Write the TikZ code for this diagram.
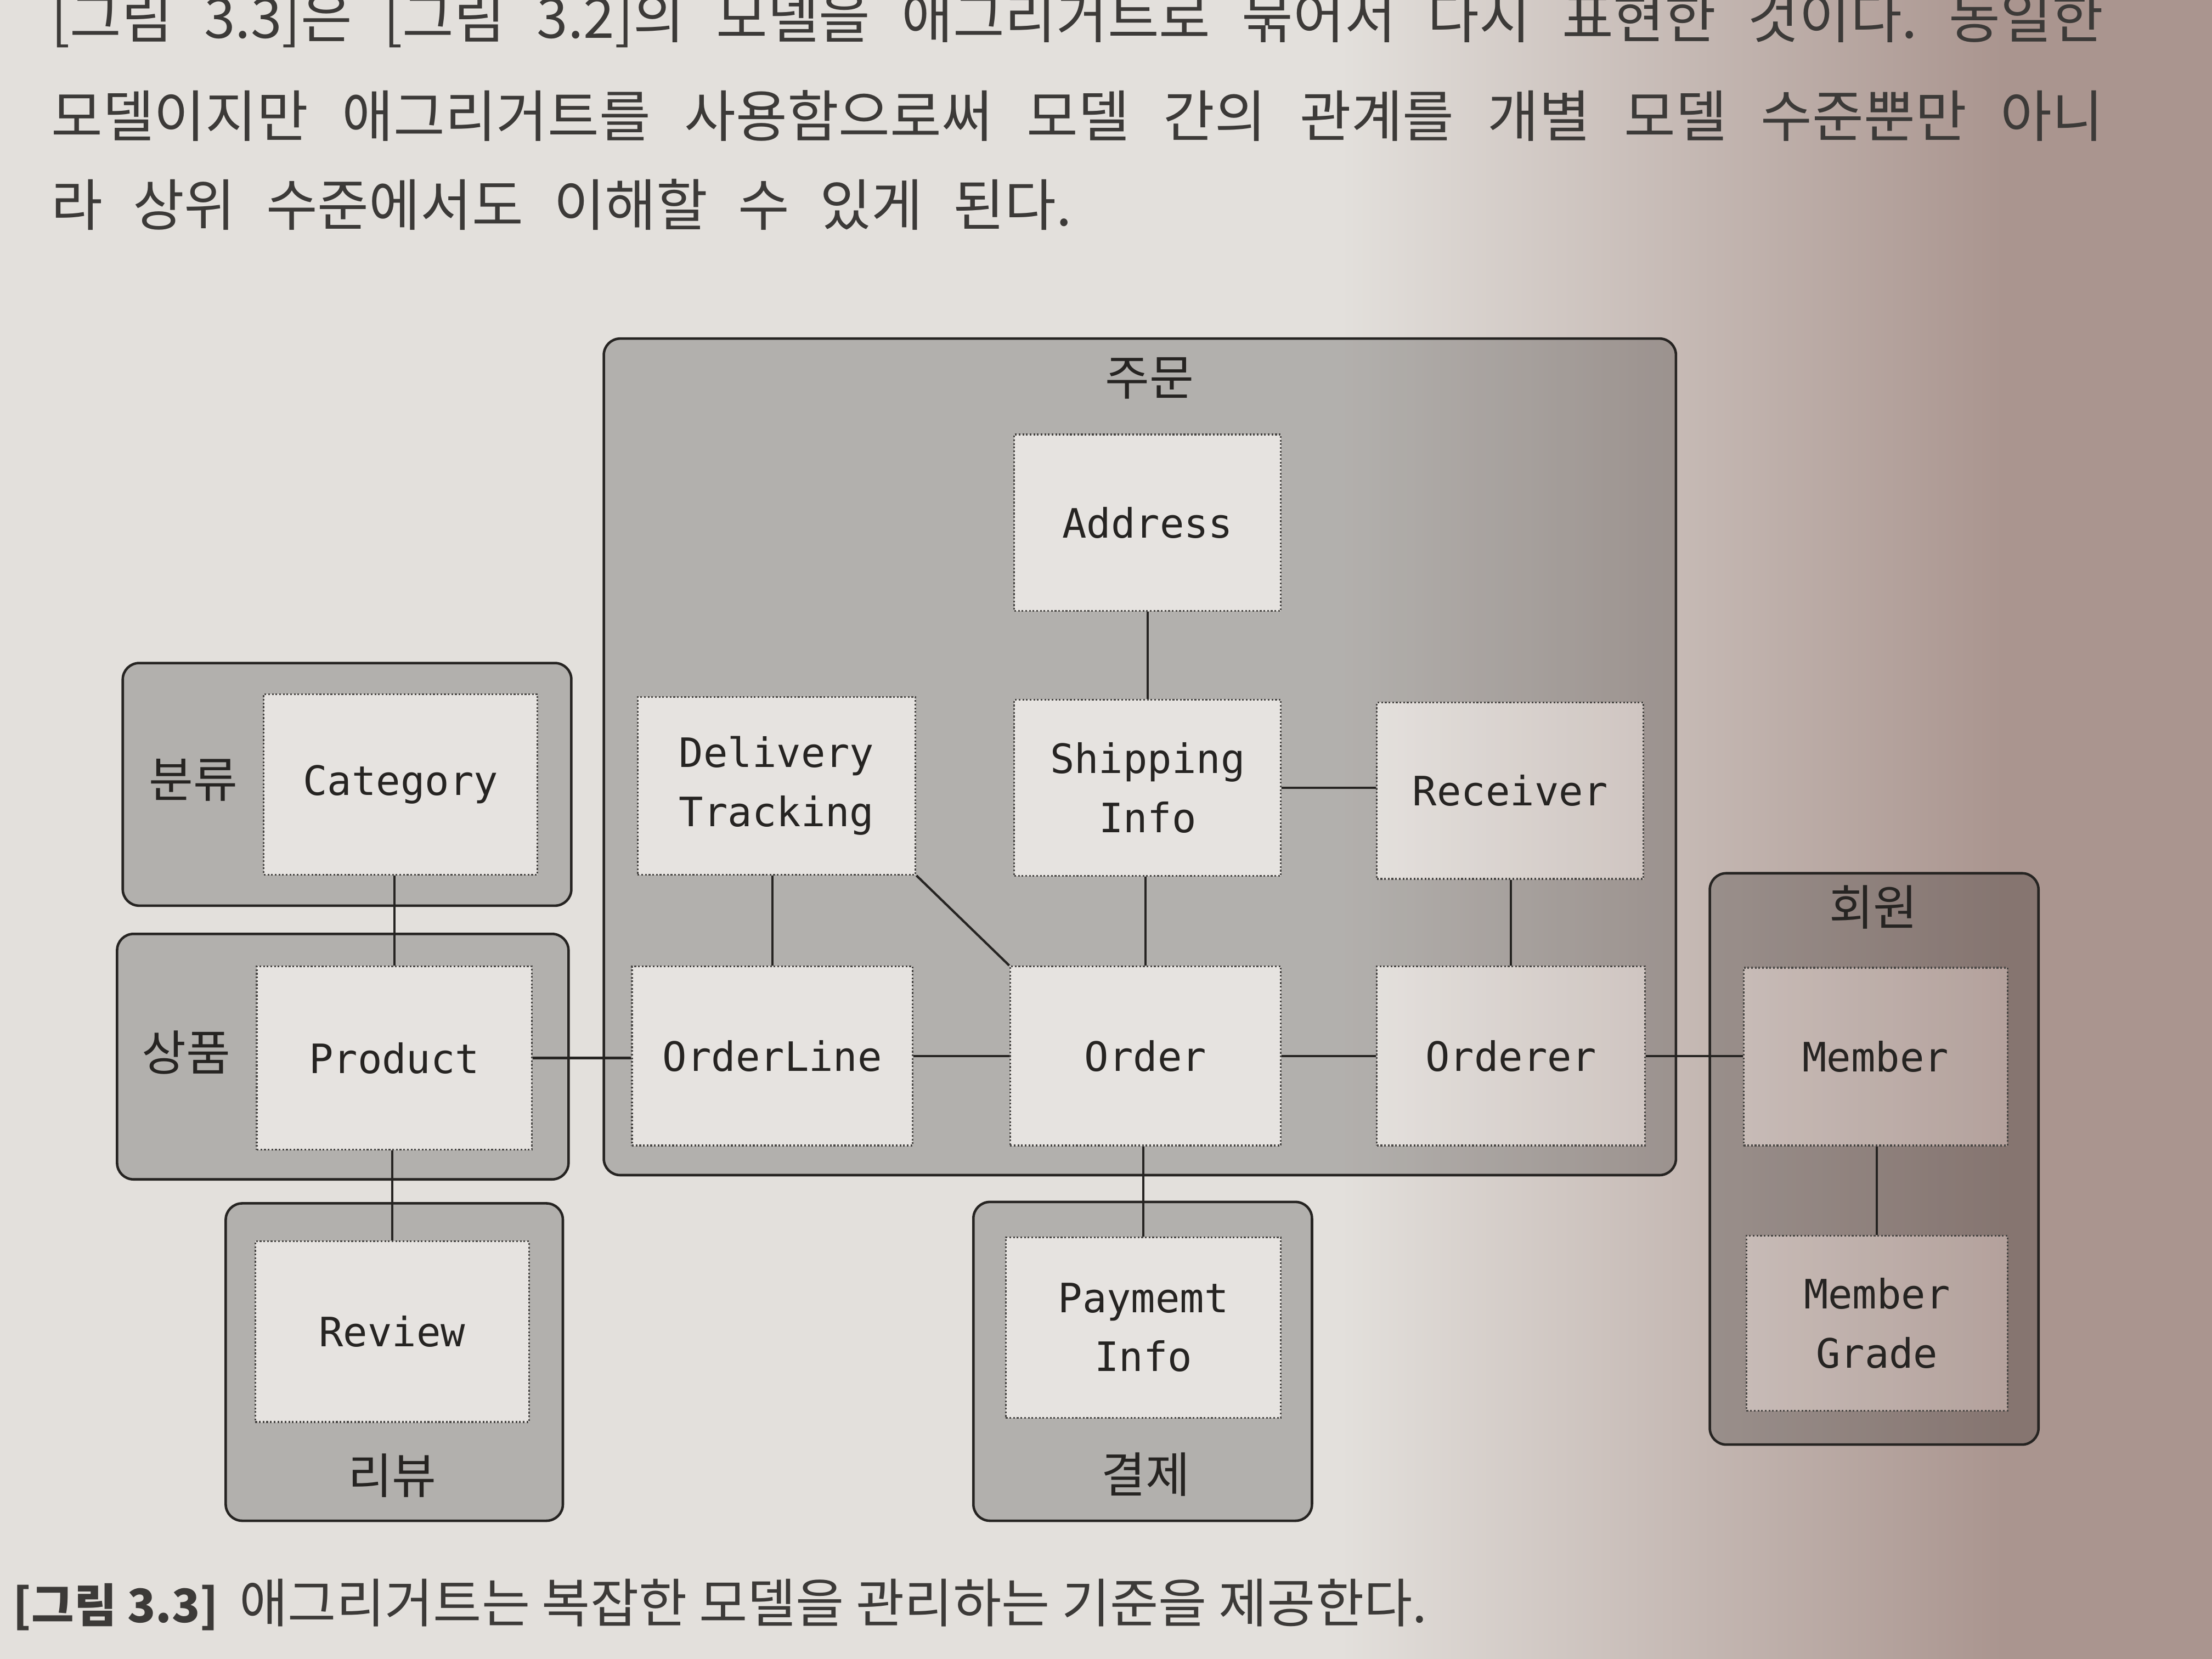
\documentclass[tikz,border=0pt]{standalone}
\usepackage{fontspec}
\usepackage{xcolor}
\usetikzlibrary{calc}
\newfontfamily\cjk{Noto Sans CJK KR}
\newfontfamily\boxfont{DejaVu Sans Mono}
\definecolor{paperL}{RGB}{227,224,220}
\definecolor{paperR}{RGB}{170,149,143}
\definecolor{ink}{RGB}{38,36,34}
\newcommand{\px}{0.025714cm}
\frenchspacing
\tikzset{
  aggbox/.style={draw=ink, line width=1.3pt, rounded corners=3mm,
                 fill=black, fill opacity=0.21, inner sep=0pt},
  entbox/.style={draw=ink!85, densely dotted, line width=0.9pt, inner sep=0pt,
                 align=center, text=ink, font=\boxfont\fontsize{21}{30.6}\selectfont},
  agglabel/.style={text=ink, inner sep=0pt, font=\cjk\fontsize{25}{30}\selectfont},
  link/.style={draw=ink, line width=1.2pt},
  bodytext/.style={anchor=base west, inner sep=0pt, text=ink!90,
                   font=\cjk\fontsize{#1}{34}\selectfont},
  bodytext/.default=29,
}
% the page under the print, lighter on the left
\newcommand{\paperbg}{%
  \fill[paperL] (0,0) rectangle (950,1176);
  \shade[left color=paperL, right color=paperR] (950,0) rectangle (1420,1176);
  \fill[paperR] (1420,0) rectangle (1568,1176);}
% model box: name, x1, y1, x2, y2, text
\newcommand{\model}[6]{%
  \begin{scope}
    \clip (#2,#3) rectangle (#4,#5);
    \paperbg
    \fill[white, opacity=0.12] (#2,#3) rectangle (#4,#5);
  \end{scope}
  \node[entbox, minimum width={(#4-#2)*\px}, minimum height={(#5-#3)*\px}]
    (#1) at ({(#2+#4)/2},{(#3+#5)/2}) {#6};}
% aggregate box: name, x1, y1, x2, y2
\newcommand{\aggr}[5]{%
  \node[aggbox, minimum width={(#4-#2)*\px}, minimum height={(#5-#3)*\px}]
    (#1) at ({(#2+#4)/2},{(#3+#5)/2}) {};}

\begin{document}
\begin{tikzpicture}[x=\px, y={(0cm,-0.025714cm)}]
  \useasboundingbox (0,0) rectangle (1568,1176);
  \clip (0,0) rectangle (1568,1176);
  \paperbg

  % text above the figure
  \node[bodytext] (p1) at (36,27)
    {\makebox[37.4cm][s]{[그림 3.3]은 [그림 3.2]의 모델을 애그리거트로 묶어서 다시 표현한 것이다. 동일한}};
  \node[bodytext] (p2) at (36,97)
    {\makebox[37.4cm][s]{모델이지만 애그리거트를 사용함으로써 모델 간의 관계를 개별 모델 수준뿐만 아니}};
  \node[bodytext] (p3) at (36,160)
    {\makebox[18.6cm][s]{라 상위 수준에서도 이해할 수 있게 된다.}};

  % aggregates
  \foreach \n/\xa/\ya/\xb/\yb in {gord/428/240/1188/833, gcat/87/470/405/642,
      gprod/83/662/403/836, grev/160/853/399/1078, gpay/690/852/930/1078,
      gmem/1212/619/1445/1024}
    {\aggr{\n}{\xa}{\ya}{\xb}{\yb}}

  % models
  \foreach \n/\xa/\ya/\xb/\yb/\t in {addr/719/308/908/433/Address,
      dlv/452/494/649/620/{Delivery\\Tracking}, ship/719/496/908/621/{Shipping\\Info},
      rcv/976/498/1165/623/Receiver, oline/448/685/647/812/OrderLine,
      ord/716/685/908/812/Order, orer/976/685/1166/812/Orderer,
      cat/187/492/381/620/Category, prod/182/685/377/815/Product,
      rev/181/880/375/1008/Review, pay/713/877/908/1005/{Paymemt\\Info},
      mem/1236/686/1423/812/Member, mgr/1238/876/1423/1000/{Member\\Grade}}
    {\model{\n}{\xa}{\ya}{\xb}{\yb}{\t}}

  % connectors
  \foreach \a/\b in {addr/ship, dlv/oline, ship/ord, rcv/orer, cat/prod,
      prod/rev, ord/pay, mem/mgr}
    \draw[link] (\b |- \a.south) -- (\b);
  \foreach \a/\b in {ship/rcv, prod/oline, oline/ord, ord/orer, orer/mem}
    \draw[link] (\a) -- (\a -| \b.west);
  \draw[link] (dlv.south east) -- (ord.north west);

  % aggregate names
  \node[agglabel] (lord) at (815,268) {주문};
  \node[agglabel] (lcat) at (137,553) {분류};
  \node[agglabel] (lprod) at (132,746) {상품};
  \node[agglabel] (lrev) at (278,1046) {리뷰};
  \node[agglabel] (lpay) at (812,1045) {결제};
  \node[agglabel] (lmem) at (1328,643) {회원};

  % caption
  \node[bodytext=27.3] (cap) at (9,1150)
    {{\fontsize{24}{30}\selectfont\textbf{[그림 3.3]}}\hspace{0.4em}애그리거트는 복잡한 모델을 관리하는 기준을 제공한다.};
\end{tikzpicture}
\end{document}
